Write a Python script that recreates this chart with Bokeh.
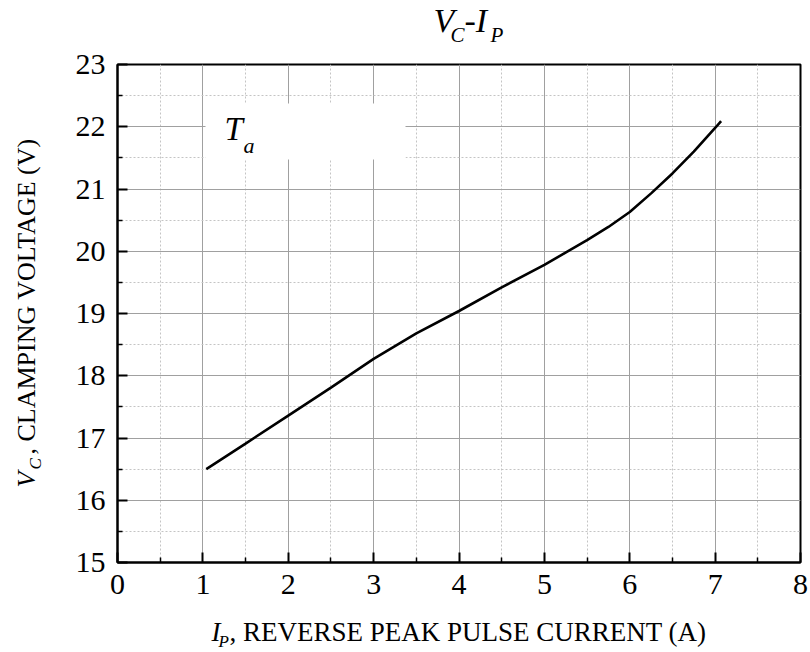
import math
from bokeh.plotting import figure
from bokeh.models import Range1d, Label, FixedTicker
from bokeh.layouts import column, row
from bokeh.embed import file_html
from bokeh.resources import INLINE

# ---- data ----
ip_current = [1.04, 1.5, 2.0, 2.5, 3.0, 3.5, 4.0, 4.5, 5.0, 5.5, 5.75, 6.0, 6.25, 6.5, 6.75, 7.0, 7.07]
vc_voltage = [16.50, 16.91, 17.36, 17.81, 18.27, 18.68, 19.04, 19.42, 19.78, 20.18, 20.39, 20.63, 20.93, 21.25, 21.60, 21.98, 22.09]
x_ticks = [0, 1, 2, 3, 4, 5, 6, 7, 8]
y_ticks = [15, 16, 17, 18, 19, 20, 21, 22, 23]

# ---- layout (page pixels) ----
PAGE_W, PAGE_H = 810, 652
TOP_H = 46          # title strip
LEFT_W = 50         # y-label strip
BOT_H = 40          # x-label strip
MAIN_W = PAGE_W - LEFT_W
MAIN_H = PAGE_H - TOP_H - BOT_H
FL, FR, FT, FB = 117, 800, 64, 562   # plot frame in page pixels
X0, X1, Y0, Y1 = 0, 8, 15, 23
SERIF = "Liberation Serif"
SHIFT = 0.36        # empirical baseline correction (fraction of font size)


def strip(w, h):
    f = figure(width=w, height=h, output_backend="svg", toolbar_location=None,
               title=None, x_axis_type=None, y_axis_type=None,
               x_range=Range1d(0, 1), y_range=Range1d(0, 1),
               min_border=0)
    f.outline_line_color = None
    f.background_fill_color = "white"
    f.border_fill_color = "white"
    return f


p = figure(width=MAIN_W, height=MAIN_H, output_backend="svg", toolbar_location=None,
           title=None, x_range=Range1d(X0, X1), y_range=Range1d(Y0, Y1),
           min_border_left=FL - LEFT_W, min_border_right=PAGE_W - FR,
           min_border_top=FT - TOP_H, min_border_bottom=TOP_H + MAIN_H - FB)
p.background_fill_color = "white"
p.border_fill_color = "white"
p.outline_line_color = "black"
p.outline_line_width = 2


def sx(px):
    return X0 + (px - FL) / (FR - FL) * (X1 - X0)


def sy(py):
    return Y1 - (py - FT) / (FB - FT) * (Y1 - Y0)


for ax in (p.xaxis, p.yaxis):
    ax.axis_line_color = "black"
    ax.axis_line_width = 2
    ax.major_tick_in = 10
    ax.major_tick_out = 0
    ax.minor_tick_in = 5
    ax.minor_tick_out = 0
    ax.major_tick_line_color = "black"
    ax.major_tick_line_width = 2
    ax.minor_tick_line_color = "black"
    ax.minor_tick_line_width = 1.5
    ax.major_label_text_font = SERIF
    ax.major_label_text_font_size = "30px"
    ax.major_label_text_color = "black"
    ax.major_label_standoff = 12

p.xaxis.ticker = FixedTicker(ticks=x_ticks, minor_ticks=[v + 0.5 for v in x_ticks[:-1]])
p.yaxis.ticker = FixedTicker(ticks=y_ticks, minor_ticks=[v + 0.5 for v in y_ticks[:-1]])

for g in (p.xgrid, p.ygrid):
    g.grid_line_color = "#a0a0a0"
    g.grid_line_width = 1
    g.minor_grid_line_color = "#c4c4c4"
    g.minor_grid_line_dash = "2 2"
    g.minor_grid_line_width = 1

# white legend-like box behind T_a
p.quad(left=[sx(205)], right=[sx(405)], top=[sy(103)], bottom=[sy(159)],
       fill_color="white", line_color=None)

p.line(ip_current, vc_voltage, line_color="black", line_width=2.6)


def lab(fig, ox, oy, text, px, py, size, italic=False, angle=0.0):
    if angle == 0.0:
        x, y = px - ox, py - oy - SHIFT * size
    else:
        x, y = px - ox - SHIFT * size, py - oy
    fig.add_layout(Label(x=x, y=y, x_units="canvas", y_units="canvas",
                         text=text, text_font=SERIF,
                         text_font_size=f"{size}px",
                         text_font_style="italic" if italic else "normal",
                         text_color="black", text_align="left",
                         text_baseline="alphabetic", angle=angle))


# title strip: V_C-I_P
top = strip(PAGE_W, TOP_H)
lab(top, 0, 0, "V", 433, 32, 34, True)
lab(top, 0, 0, "C", 450, 42, 21, True)
lab(top, 0, 0, "-I", 464, 32, 34, True)
lab(top, 0, 0, "P", 490, 42, 21, True)

# T_a annotation inside the plot
lab(p, LEFT_W, TOP_H, "T", 224, 140, 33, True)
lab(p, LEFT_W, TOP_H, "a", 243, 153, 22, True)

# x-axis title strip
bot = strip(PAGE_W, BOT_H)
by = TOP_H + MAIN_H
lab(bot, 0, by, "I", 211, 641, 27, True)
lab(bot, 0, by, "P", 218, 647, 17, True)
lab(bot, 0, by, ", REVERSE PEAK PULSE CURRENT (A)", 229, 641, 27)

# y-axis title strip (rotated)
left = strip(LEFT_W, MAIN_H)
r = math.pi / 2
lab(left, 0, TOP_H, "V", 35, 487, 26, True, r)
lab(left, 0, TOP_H, "C", 41, 469, 17, True, r)
lab(left, 0, TOP_H, ", CLAMPING VOLTAGE (V)", 35, 454, 26, False, r)

layout = column(top, row(left, p), bot)
open("out.html", "w").write(file_html(layout, INLINE))
